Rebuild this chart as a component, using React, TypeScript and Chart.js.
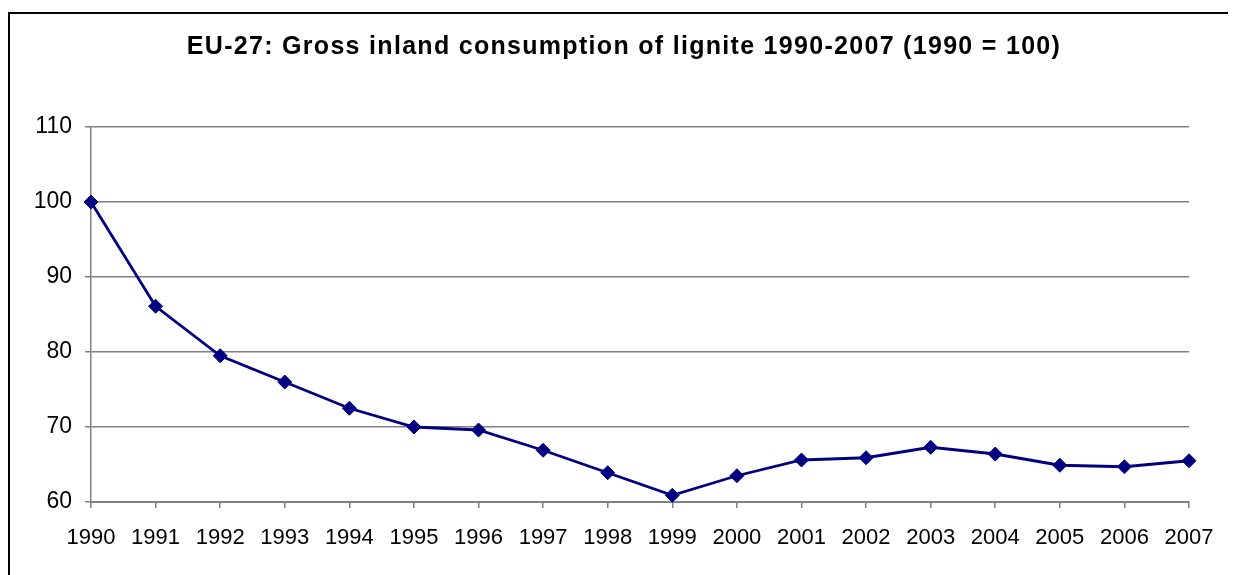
import React, { useEffect, useRef } from "react";
import { Chart, registerables } from "chart.js";

Chart.register(...registerables);

const TITLE = "EU-27: Gross inland consumption of lignite 1990-2007 (1990 = 100)";
const years = [
  "1990", "1991", "1992", "1993", "1994", "1995", "1996", "1997", "1998",
  "1999", "2000", "2001", "2002", "2003", "2004", "2005", "2006", "2007",
];
const lignite = [
  100, 86.1, 79.5, 76.0, 72.5, 70.0, 69.6, 66.9, 63.9,
  60.9, 63.5, 65.6, 65.9, 67.3, 66.4, 64.9, 64.7, 65.5,
];
const yMin = 60;
const yMax = 110;
const yStep = 10;

const titlePlugin = {
  id: "customTitle",
  afterDraw(chart: any) {
    const ctx = chart.ctx as CanvasRenderingContext2D;
    ctx.save();
    ctx.font = "bold 25px 'Liberation Sans', Arial, sans-serif";
    (ctx as any).letterSpacing = "1.3px";
    ctx.fillStyle = "#000";
    ctx.textAlign = "center";
    ctx.textBaseline = "alphabetic";
    ctx.fillText(TITLE, chart.width / 2 + 1, 39.5);
    ctx.restore();
  },
};

export default function App() {
  const ref = useRef<HTMLCanvasElement | null>(null);
  useEffect(() => {
    if (!ref.current) return;
    const chart = new Chart(ref.current, {
      type: "line",
      data: {
        labels: years,
        datasets: [
          {
            data: lignite,
            borderColor: "#000080",
            backgroundColor: "#000080",
            borderWidth: 2.8,
            pointStyle: "rectRot",
            pointRadius: 7,
            pointHoverRadius: 7,
            pointBackgroundColor: "#000080",
            pointBorderColor: "#000080",
            pointBorderWidth: 1,
            tension: 0,
            clip: false as any,
          },
        ],
      },
      options: {
        responsive: false,
        animation: false,
        events: [],
        layout: { padding: { left: 0, right: 47, top: 113, bottom: 0 } },
        plugins: {
          legend: { display: false },
          title: { display: false },
          tooltip: { enabled: false },
        },
        scales: {
          x: {
            type: "category",
            offset: false,
            grid: {
              display: true,
              drawOnChartArea: false,
              drawTicks: true,
              tickLength: 6,
              color: "#808080",
              lineWidth: 1.5,
            },
            border: { display: true, color: "#808080", width: 2 },
            ticks: {
              color: "#000",
              font: { family: "'Liberation Sans', Arial, sans-serif", size: 22 },
              padding: 17,
              maxRotation: 0,
              autoSkip: false,
            },
            afterFit(scale: any) {
              scale.height = 73;
            },
          },
          y: {
            min: yMin,
            max: yMax,
            grid: {
              display: true,
              drawOnChartArea: true,
              drawTicks: true,
              tickLength: 6,
              color: "#808080",
              lineWidth: 1.5,
            },
            border: { display: true, color: "#808080", width: 1.5 },
            ticks: {
              stepSize: yStep,
              color: "#000",
              font: { family: "'Liberation Sans', Arial, sans-serif", size: 23 },
              padding: 13,
            },
            afterFit(scale: any) {
              scale.width = 81;
            },
          },
        },
      },
      plugins: [titlePlugin],
    });
    return () => chart.destroy();
  }, []);
  return (
    <div
      style={{
        marginTop: 4,
        borderTop: "2px solid #000",
        borderLeft: "2px solid #000",
        width: 1228,
        height: 561,
        background: "#fff",
      }}
    >
      <canvas ref={ref} width={1226} height={561} style={{ display: "block" }} />
    </div>
  );
}
